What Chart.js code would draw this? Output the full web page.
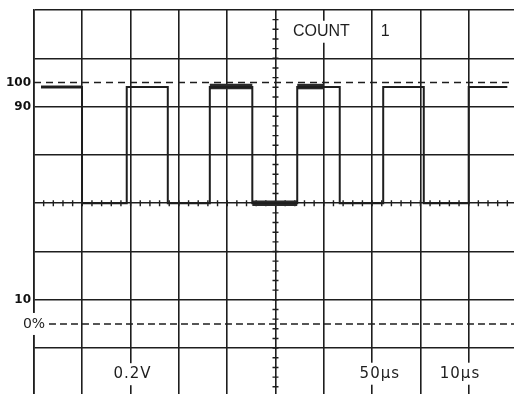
<!DOCTYPE html>
<html><head><meta charset="utf-8">
<title>COUNT 1 · 0.2V · 50μs · 10μs</title>
<script src="https://cdn.jsdelivr.net/npm/chart.js@4.4.7/dist/chart.umd.min.js"></script>
<style>html,body{margin:0;padding:0;background:#fff}canvas{display:block}</style>
</head><body>
<canvas id="chart" width="514" height="394"></canvas>
<script>
// pulse trace: edge times (μs) and level after each edge (% of the 0..100 reference)
var EDGE_US = [1.45, 9.94, 19.2, 27.7, 36.4, 45.2, 54.5, 63.3, 72.3, 80.7, 90.0, 98.0];
var LEVEL_PCT = [98.1, 50, 98.1, 50, 98.1, 50, 98.1, 50, 98.1, 50, 98.1, 98.1];

// parts of the trace written over several sweeps (look heavier)
var BRIGHT_FROM = [1.45, 36.4, 45.2, 54.5];
var BRIGHT_TO = [9.94, 45.2, 54.5, 60.0];
var BRIGHT_PCT = [98.1, 98.3, 50, 98.3];

// dashed reference levels 100% and 0%
var REF_PCT = [100, 0];
var REF_FROM = [0, 3.1];

// graticule: major lines (μs / %) and marked levels on the left
var X_DIV = [0, 10, 20, 30, 40, 50, 60, 70, 80, 90];
var Y_DIV = [-10, 10, 30, 50, 70, 90, 110, 130];
var Y_MARKS = [100, 90, 10];

var X_MAX = 99.38, Y_MIN = -29, Y_MAX = 130;
var INK = '#1e1e1e';

// screen texts (value coords)
var NOTES = [
  {t:'COUNT', x:59.5, y:121, font:'16px "Liberation Sans"', sp:0},
  {t:'1', x:72.7, y:121, font:'16px "Liberation Sans"', sp:0},
  {t:'0.2V', x:20.4, y:-20.8, font:'15px "DejaVu Sans"', sp:1},
  {t:'50μs', x:71.6, y:-20.6, font:'15px "DejaVu Sans"', sp:1},
  {t:'10μs', x:88.2, y:-20.6, font:'15px "DejaVu Sans"', sp:1},
  {t:'0%', x:0, y:0, font:'14px "DejaVu Sans"', sp:0}
];

var datasets = [];
// step-before: hold the previous level until the next edge
datasets.push({
  data: EDGE_US.map(function(t, i) { return {x: t, y: LEVEL_PCT[i]}; }),
  stepped: 'before', borderColor: INK, borderWidth: 2, pointRadius: 0
});
BRIGHT_FROM.forEach(function(t, i) {
  datasets.push({
    data: [{x: t, y: BRIGHT_PCT[i]}, {x: BRIGHT_TO[i], y: BRIGHT_PCT[i]}],
    borderColor: '#2a2a2a', borderWidth: i === 0 ? 3 : 5.5, pointRadius: 0, borderCapStyle: 'butt'
  });
});
REF_PCT.forEach(function(v, i) {
  datasets.push({
    data: [{x: REF_FROM[i], y: v}, {x: X_MAX, y: v}],
    borderColor: INK, borderWidth: 1.5, borderDash: i === 0 ? [7, 5] : [7, 4], pointRadius: 0
  });
});

// minor ticks on centre axes + screen texts
var screen = {
  id: 'screen',
  beforeDatasetsDraw: function(chart) {
    var c = chart.ctx, xs = chart.scales.x, ys = chart.scales.y;
    var cx = xs.getPixelForValue(50), cy = ys.getPixelForValue(50);
    c.save();
    c.strokeStyle = INK; c.lineWidth = 1.4; c.beginPath();
    for (var t = 2; t < X_MAX; t += 2) {
      var px = xs.getPixelForValue(t);
      c.moveTo(px, cy - 3); c.lineTo(px, cy + 3);
    }
    for (var v = -26; v < Y_MAX; v += 4) {
      var py = ys.getPixelForValue(v);
      c.moveTo(cx - 3, py); c.lineTo(cx + 3, py);
    }
    c.stroke();
    c.restore();
  },
  afterDraw: function(chart) {
    var c = chart.ctx, xs = chart.scales.x, ys = chart.scales.y;
    c.save();
    c.textAlign = 'center'; c.textBaseline = 'middle';
    NOTES.forEach(function(n) {
      c.font = n.font;
      c.letterSpacing = n.sp + 'px';
      var px = xs.getPixelForValue(n.x), py = ys.getPixelForValue(n.y);
      var w = c.measureText(n.t).width;
      c.fillStyle = '#fff';
      c.fillRect(px - w / 2 - 2, py - 11, w + 4, 22);
      c.fillStyle = INK;
      c.fillText(n.t, px, py);
    });
    c.restore();
  }
};

new Chart(document.getElementById('chart').getContext('2d'), {
  type: 'line',
  data: {datasets: datasets},
  options: {
    responsive: false, animation: false, devicePixelRatio: 1,
    layout: {padding: {top: 10, left: 0, right: 0, bottom: 0}},
    plugins: {legend: {display: false}, tooltip: {enabled: false}},
    scales: {
      x: {
        type: 'linear', min: 0, max: X_MAX,
        afterBuildTicks: function(s) { s.ticks = X_DIV.map(function(v) { return {value: v}; }); },
        ticks: {display: false},
        grid: {color: INK, lineWidth: 1.6, drawTicks: false},
        border: {display: false}
      },
      y: {
        min: Y_MIN, max: Y_MAX,
        afterBuildTicks: function(s) { s.ticks = Y_DIV.map(function(v) { return {value: v}; }); },
        ticks: {display: false},
        grid: {color: INK, lineWidth: 1.5, drawTicks: false},
        border: {display: true, color: INK, width: 1.6}
      },
      yLab: {
        position: 'left', min: Y_MIN, max: Y_MAX,
        afterBuildTicks: function(s) { s.ticks = Y_MARKS.map(function(v) { return {value: v}; }); },
        afterFit: function(s) { s.width = 34; s.paddingTop = 0; s.paddingBottom = 0; },
        grid: {display: false, drawTicks: false},
        border: {display: false},
        ticks: {padding: 3, color: '#111', font: {family: 'DejaVu Sans', size: 12, weight: 'bold'}}
      }
    }
  },
  plugins: [screen]
});
</script>
</body></html>
